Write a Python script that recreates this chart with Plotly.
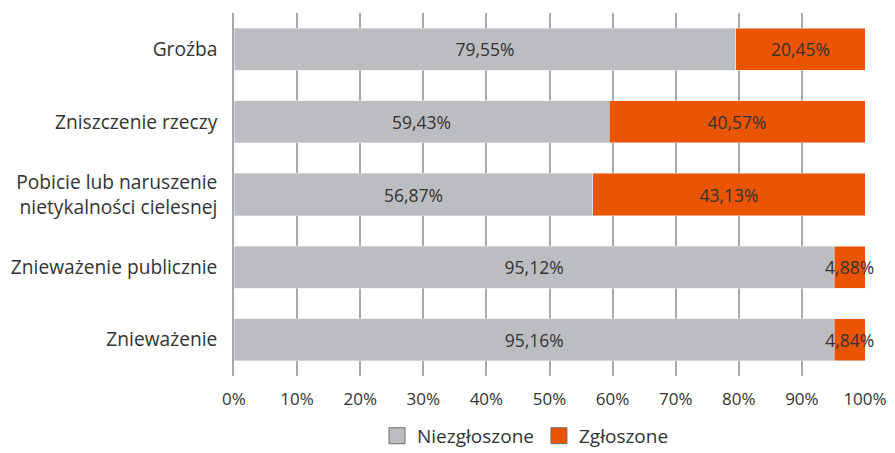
import plotly.graph_objects as go

categories = ["Groźba", "Zniszczenie rzeczy", "Pobicie lub naruszenie<br> nietykalności cielesnej",
              "Znieważenie publicznie", "Znieważenie"]
niezgloszone = [79.55, 59.43, 56.87, 95.12, 95.16]
zgloszone = [20.45, 40.57, 43.13, 4.88, 4.84]
series_names = ["Niezgłoszone", "Zgłoszone"]
tick_vals = [0, 10, 20, 30, 40, 50, 60, 70, 80, 90, 100]
tick_text = [f"{v}%" for v in tick_vals]

def fmt(v):
    return f"{v:.2f}%".replace(".", ",")

FONT = "Open Sans"
TXT = "#333333"
GRAY = "#bcbdc0"
ORANGE = "#ea5504"

fig = go.Figure()
for vals, name, col in [(niezgloszone, series_names[0], GRAY), (zgloszone, series_names[1], ORANGE)]:
    fig.add_trace(go.Bar(
        y=categories, x=vals, orientation="h", name=name, showlegend=False,
        marker=dict(color=col),
        text=[fmt(v) for v in vals], textposition="inside",
        insidetextanchor="middle", textangle=0, cliponaxis=False,
        textfont=dict(family=FONT, size=17.5, color=TXT),
    ))
# legend entries with larger boxed swatches
for name, col in [(series_names[0], GRAY), (series_names[1], ORANGE)]:
    fig.add_trace(go.Scatter(
        x=[None], y=[None], mode="markers", name=name,
        marker=dict(symbol="square", size=18, color=col, line=dict(width=1, color="#6d6e71")),
    ))

# page body has an 8px margin, so the figure is sized/offset to compensate
fig.update_layout(
    barmode="stack", bargap=0.42,
    width=887, height=445,
    margin=dict(l=226, r=30, t=5, b=77, autoexpand=False),
    paper_bgcolor="white", plot_bgcolor="white",
    font=dict(family=FONT, size=17, color=TXT),
    uniformtext=dict(minsize=17, mode="show"),
    legend=dict(orientation="h", x=0.462, xanchor="center", y=-0.165, yanchor="middle",
                font=dict(size=19, color=TXT), traceorder="normal", itemsizing="trace"),
    xaxis=dict(range=[0, 100], tickvals=tick_vals, ticktext=tick_text,
               showgrid=True, gridcolor="#a7a9ac", gridwidth=1.5,
               zeroline=False, showline=False, ticks="", ticklabelstandoff=11,
               tickfont=dict(size=17, color=TXT)),
    yaxis=dict(autorange="reversed", showline=True, linecolor="#a7a9ac", linewidth=1.5,
               ticks="", ticklabelstandoff=11, tickfont=dict(size=19.2, color=TXT)),
)
fig.write_html("out.html")
